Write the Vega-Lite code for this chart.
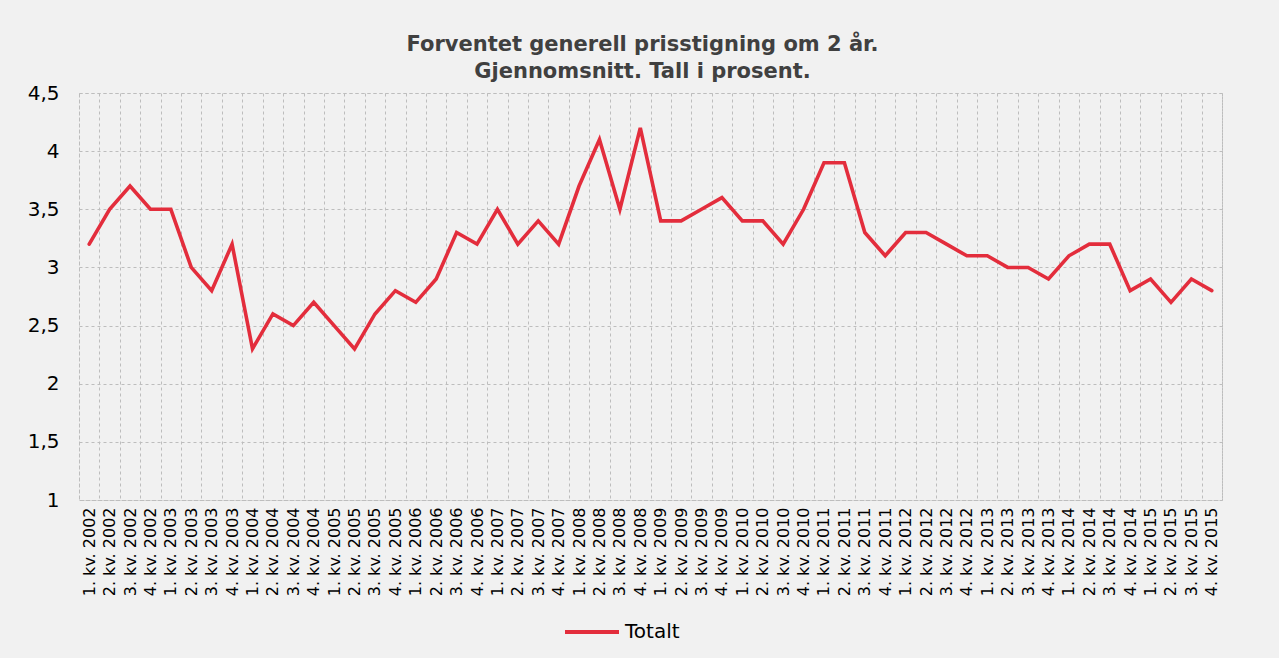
{
  "$schema": "https://vega.github.io/schema/vega-lite/v6.json",
  "autosize": "none",
  "width": 1143,
  "height": 407,
  "padding": {"left": 79, "top": 93, "right": 57, "bottom": 158},
  "background": "#f1f1f1",
  "title": {
    "text": ["Forventet generell prisstigning om 2 år.", "Gjennomsnitt. Tall i prosent."],
    "font": "DejaVu Sans",
    "fontSize": 21,
    "fontWeight": "bold",
    "color": "#404040",
    "lineHeight": 27,
    "offset": 1,
    "dx": -8
  },
  "data": {
    "values": [
      {"kvartal": "1. kv. 2002", "verdi": 3.2, "serie": "Totalt"},
      {"kvartal": "2. kv. 2002", "verdi": 3.5, "serie": "Totalt"},
      {"kvartal": "3. kv. 2002", "verdi": 3.7, "serie": "Totalt"},
      {"kvartal": "4. kv. 2002", "verdi": 3.5, "serie": "Totalt"},
      {"kvartal": "1. kv. 2003", "verdi": 3.5, "serie": "Totalt"},
      {"kvartal": "2. kv. 2003", "verdi": 3.0, "serie": "Totalt"},
      {"kvartal": "3. kv. 2003", "verdi": 2.8, "serie": "Totalt"},
      {"kvartal": "4. kv. 2003", "verdi": 3.2, "serie": "Totalt"},
      {"kvartal": "1. kv. 2004", "verdi": 2.3, "serie": "Totalt"},
      {"kvartal": "2. kv. 2004", "verdi": 2.6, "serie": "Totalt"},
      {"kvartal": "3. kv. 2004", "verdi": 2.5, "serie": "Totalt"},
      {"kvartal": "4. kv. 2004", "verdi": 2.7, "serie": "Totalt"},
      {"kvartal": "1. kv. 2005", "verdi": 2.5, "serie": "Totalt"},
      {"kvartal": "2. kv. 2005", "verdi": 2.3, "serie": "Totalt"},
      {"kvartal": "3. kv. 2005", "verdi": 2.6, "serie": "Totalt"},
      {"kvartal": "4. kv. 2005", "verdi": 2.8, "serie": "Totalt"},
      {"kvartal": "1. kv. 2006", "verdi": 2.7, "serie": "Totalt"},
      {"kvartal": "2. kv. 2006", "verdi": 2.9, "serie": "Totalt"},
      {"kvartal": "3. kv. 2006", "verdi": 3.3, "serie": "Totalt"},
      {"kvartal": "4. kv. 2006", "verdi": 3.2, "serie": "Totalt"},
      {"kvartal": "1. kv. 2007", "verdi": 3.5, "serie": "Totalt"},
      {"kvartal": "2. kv. 2007", "verdi": 3.2, "serie": "Totalt"},
      {"kvartal": "3. kv. 2007", "verdi": 3.4, "serie": "Totalt"},
      {"kvartal": "4. kv. 2007", "verdi": 3.2, "serie": "Totalt"},
      {"kvartal": "1. kv. 2008", "verdi": 3.7, "serie": "Totalt"},
      {"kvartal": "2. kv. 2008", "verdi": 4.1, "serie": "Totalt"},
      {"kvartal": "3. kv. 2008", "verdi": 3.5, "serie": "Totalt"},
      {"kvartal": "4. kv. 2008", "verdi": 4.2, "serie": "Totalt"},
      {"kvartal": "1. kv. 2009", "verdi": 3.4, "serie": "Totalt"},
      {"kvartal": "2. kv. 2009", "verdi": 3.4, "serie": "Totalt"},
      {"kvartal": "3. kv. 2009", "verdi": 3.5, "serie": "Totalt"},
      {"kvartal": "4. kv. 2009", "verdi": 3.6, "serie": "Totalt"},
      {"kvartal": "1. kv. 2010", "verdi": 3.4, "serie": "Totalt"},
      {"kvartal": "2. kv. 2010", "verdi": 3.4, "serie": "Totalt"},
      {"kvartal": "3. kv. 2010", "verdi": 3.2, "serie": "Totalt"},
      {"kvartal": "4. kv. 2010", "verdi": 3.5, "serie": "Totalt"},
      {"kvartal": "1. kv. 2011", "verdi": 3.9, "serie": "Totalt"},
      {"kvartal": "2. kv. 2011", "verdi": 3.9, "serie": "Totalt"},
      {"kvartal": "3. kv. 2011", "verdi": 3.3, "serie": "Totalt"},
      {"kvartal": "4. kv. 2011", "verdi": 3.1, "serie": "Totalt"},
      {"kvartal": "1. kv. 2012", "verdi": 3.3, "serie": "Totalt"},
      {"kvartal": "2. kv. 2012", "verdi": 3.3, "serie": "Totalt"},
      {"kvartal": "3. kv. 2012", "verdi": 3.2, "serie": "Totalt"},
      {"kvartal": "4. kv. 2012", "verdi": 3.1, "serie": "Totalt"},
      {"kvartal": "1. kv. 2013", "verdi": 3.1, "serie": "Totalt"},
      {"kvartal": "2. kv. 2013", "verdi": 3.0, "serie": "Totalt"},
      {"kvartal": "3. kv. 2013", "verdi": 3.0, "serie": "Totalt"},
      {"kvartal": "4. kv. 2013", "verdi": 2.9, "serie": "Totalt"},
      {"kvartal": "1. kv. 2014", "verdi": 3.1, "serie": "Totalt"},
      {"kvartal": "2. kv. 2014", "verdi": 3.2, "serie": "Totalt"},
      {"kvartal": "3. kv. 2014", "verdi": 3.2, "serie": "Totalt"},
      {"kvartal": "4. kv. 2014", "verdi": 2.8, "serie": "Totalt"},
      {"kvartal": "1. kv. 2015", "verdi": 2.9, "serie": "Totalt"},
      {"kvartal": "2. kv. 2015", "verdi": 2.7, "serie": "Totalt"},
      {"kvartal": "3. kv. 2015", "verdi": 2.9, "serie": "Totalt"},
      {"kvartal": "4. kv. 2015", "verdi": 2.8, "serie": "Totalt"}
    ]
  },
  "mark": {"type": "line", "strokeWidth": 3.6, "strokeJoin": "miter", "strokeCap": "round"},
  "encoding": {
    "x": {
      "field": "kvartal",
      "type": "ordinal",
      "sort": null,
      "bandPosition": 0.5,
      "scale": {"type": "band", "paddingInner": 0, "paddingOuter": 0},
      "axis": {
        "title": null,
        "labelAngle": 270,
        "labelFont": "DejaVu Sans",
        "labelFontSize": 16,
        "labelColor": "#000000",
        "labelPadding": 7,
        "labelOverlap": false,
        "ticks": false,
        "domain": false,
        "grid": true,
        "tickBand": "extent",
        "gridColor": "#bdbdbd",
        "gridDash": [3, 3],
        "gridWidth": 1
      }
    },
    "y": {
      "field": "verdi",
      "type": "quantitative",
      "scale": {"domain": [1, 4.5], "nice": false, "zero": false},
      "axis": {
        "title": null,
        "values": [1, 1.5, 2, 2.5, 3, 3.5, 4, 4.5],
        "labelExpr": "replace(format(datum.value, ''), '.', ',')",
        "labelFont": "DejaVu Sans",
        "labelFontSize": 20,
        "labelColor": "#000000",
        "labelPadding": 20,
        "ticks": false,
        "domain": false,
        "grid": true,
        "gridColor": "#bdbdbd",
        "gridDash": [3, 3],
        "gridWidth": 1
      }
    },
    "color": {
      "field": "serie",
      "type": "nominal",
      "scale": {"range": ["#e32d3c"]},
      "legend": {
        "title": null,
        "orient": "none",
        "legendX": 484,
        "legendY": 510,
        "direction": "horizontal",
        "symbolType": "stroke",
        "symbolSize": 2916,
        "symbolStrokeWidth": 4,
        "labelFont": "DejaVu Sans",
        "labelFontSize": 20,
        "labelColor": "#000000",
        "labelOffset": 4
      }
    }
  },
  "config": {
    "view": {"stroke": "#bdbdbd", "strokeDash": [3, 3], "strokeWidth": 1}
  }
}
